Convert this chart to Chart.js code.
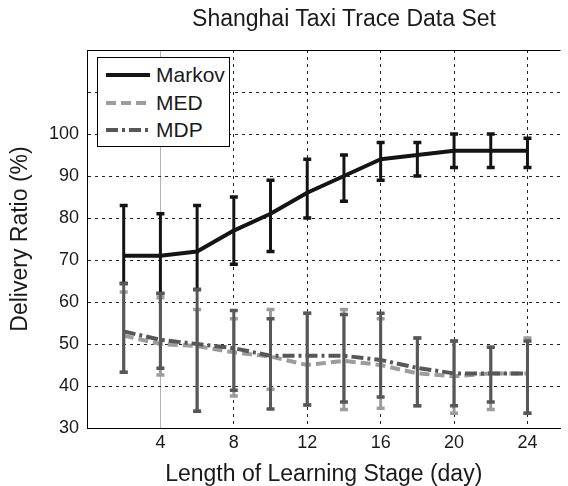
<!DOCTYPE html>
<html>
<head>
<meta charset="utf-8">
<script src="https://cdn.jsdelivr.net/npm/chart.js@4.4.0/dist/chart.umd.min.js"></script>
<style>
  html, body { margin: 0; padding: 0; background: #fff; }
  #wrap { position: relative; width: 568px; height: 486px; overflow: hidden; }
  #title {
    position: absolute; left: 144px; width: 400px; top: 7px; text-align: center;
    font: 23px/23px "Liberation Sans", Arial, sans-serif; color: #1a1a1a;
  }
  #legend {
    position: absolute; left: 97px; top: 57px; width: 131px; height: 88px;
    border: 1px solid #000; background: #fff;
  }
  .row {
    position: absolute; left: 8px; height: 28px; display: flex; align-items: center;
    font: 21px "Liberation Sans", Arial, sans-serif; color: #1a1a1a; white-space: nowrap;
  }
  .row svg { margin-right: 6px; }
</style>
</head>
<body>
<div id="wrap">
  <canvas id="chart" width="568" height="486"></canvas>
  <div id="title">Shanghai Taxi Trace Data Set</div>
  <div id="legend"></div>
</div>
<script>
// learning stage length (days)
const days = [2, 4, 6, 8, 10, 12, 14, 16, 18, 20, 22, 24];
const xTicks = [4, 8, 12, 16, 20, 24];

// delivery ratio (%) with error bar ends
const markov     = [71, 71, 72, 77, 81, 86, 90, 94, 95, 96, 96, 96];
const markovLow  = [64.4, 62, 63, 69, 72, 80, 84, 89, 90, 92, 92, 92];
const markovHigh = [83, 81, 83, 85, 89, 94, 95, 98, 98, 100, 100, 99];

const med     = [52, 50, 49.5, 48, 47, 45, 46, 45, 43, 42.3, 43, 43];
const medLow  = [43.3, 42.6, 34, 37.6, 39.2, 35.5, 34.4, 34.7, 35.3, 33.5, 34.4, 33.5];
const medHigh = [62.4, 61, 58.2, 56, 58.2, 57.3, 58.2, 56, 51.4, 50.7, 49.2, 51.4];

const mdp     = [53, 51, 50, 49, 47.2, 47.2, 47.2, 46.2, 44.3, 43, 43, 43];
const mdpLow  = [43.3, 44.2, 34, 39, 34.5, 35.5, 36.2, 37.4, 35.3, 35.3, 36.2, 33.5];
const mdpHigh = [64.4, 62, 63, 58, 56, 57.3, 57, 57.3, 51.4, 50.7, 49.2, 50.7];

const FONT = "'Liberation Sans', Arial, sans-serif";

const series = [
  { label: 'Markov', values: markov, low: markovLow, high: markovHigh, color: '#141414', dash: [] },
  { label: 'MED', values: med, low: medLow, high: medHigh, color: '#9c9c9c', dash: [10, 5] },
  { label: 'MDP', values: mdp, low: mdpLow, high: mdpHigh, color: '#575757', dash: [12, 4, 3, 4] },
];

const toPoints = (vals) => days.map((d, i) => ({ x: d, y: vals[i] }));
// vertical error bar segments, broken with null so they don't join up
const errSegments = (lo, hi) => days.flatMap((d, i) => [{ x: d, y: lo[i] }, { x: d, y: hi[i] }, { x: d, y: null }]);
const capPoints = (lo, hi) => days.flatMap((d, i) => [{ x: d, y: lo[i] }, { x: d, y: hi[i] }]);

const datasets = [];
series.forEach((s, k) => {
  const base = (3 - k) * 3;
  datasets.push({
    type: 'line', label: s.label + ' err', data: errSegments(s.low, s.high),
    borderColor: s.color, borderWidth: 3, pointRadius: 0, spanGaps: false,
    order: base + 3,
  });
  datasets.push({
    type: 'line', label: s.label + ' cap', data: capPoints(s.low, s.high),
    showLine: false, pointStyle: 'line', pointRadius: 4, pointBorderWidth: 3.5,
    pointBorderColor: s.color, pointBackgroundColor: s.color, order: base + 2,
  });
  datasets.push({
    type: 'line', label: s.label, data: toPoints(s.values),
    borderColor: s.color, borderWidth: 4, borderDash: s.dash, borderCapStyle: 'butt',
    borderJoinStyle: 'round', tension: 0, pointRadius: 0, order: base + 1,
  });
});

const gridDash = [3, 4];

new Chart(document.getElementById('chart'), {
  type: 'line',
  data: { datasets },
  options: {
    responsive: false,
    animation: false,
    layout: { padding: { top: 50, right: 0, bottom: 0, left: 0 } },
    plugins: { legend: { display: false }, tooltip: { enabled: false } },
    scales: {
      x: {
        type: 'linear', min: 0, max: 25.8,
        afterBuildTicks: (scale) => { scale.ticks = xTicks.map((v) => ({ value: v })); },
        afterFit: (scale) => { scale.height = 58; },
        ticks: { font: { family: FONT, size: 18 }, color: '#1a1a1a', padding: 4, maxRotation: 0, autoSkip: false },
        grid: {
          drawTicks: false, lineWidth: 1,
          color: (c) => (c.tick && c.tick.value === 4 ? '#b4b4b4' : '#222'),
        },
        border: {
          display: true, color: '#000', width: 1,
          dash: (c) => (c.tick && c.tick.value === 4 ? [] : gridDash),
        },
        title: {
          display: true, text: 'Length of Learning Stage (day)', color: '#1a1a1a',
          font: { family: FONT, size: 23, lineHeight: 1 }, padding: { top: 0, bottom: 0 },
        },
      },
      y: {
        type: 'linear', min: 30, max: 120,
        afterFit: (scale) => { scale.width = 87; },
        ticks: {
          stepSize: 10, font: { family: FONT, size: 18 }, color: '#1a1a1a', padding: 8,
          callback: (v) => (v <= 100 ? v : ''),
        },
        grid: {
          drawTicks: false, lineWidth: 1,
          color: (c) => {
            if (!c.tick) return '#222';
            if (c.tick.value === 30) return 'rgba(0,0,0,0)';
            if (c.tick.value === 120) return '#000';
            return '#222';
          },
        },
        border: {
          display: true, color: '#000', width: 1,
          dash: (c) => (c.tick && c.tick.value === 120 ? [] : gridDash),
        },
        title: {
          display: true, text: 'Delivery Ratio (%)', color: '#1a1a1a',
          font: { family: FONT, size: 23, lineHeight: 1 }, padding: { top: 9, bottom: 0 },
        },
      },
    },
  },
});

// html legend boxed inside the plot, like the original figure
const legend = document.getElementById('legend');
series.forEach((s, i) => {
  const row = document.createElement('div');
  row.className = 'row';
  row.style.top = (3 + i * 27.5) + 'px';
  row.innerHTML =
    '<svg width="44" height="10"><line x1="0" y1="5" x2="44" y2="5" stroke="' + s.color +
    '" stroke-width="4" stroke-dasharray="' + (s.dash.length ? s.dash.join(' ') : 'none') + '"/></svg>' +
    '<span>' + s.label + '</span>';
  legend.appendChild(row);
});
</script>
</body>
</html>
